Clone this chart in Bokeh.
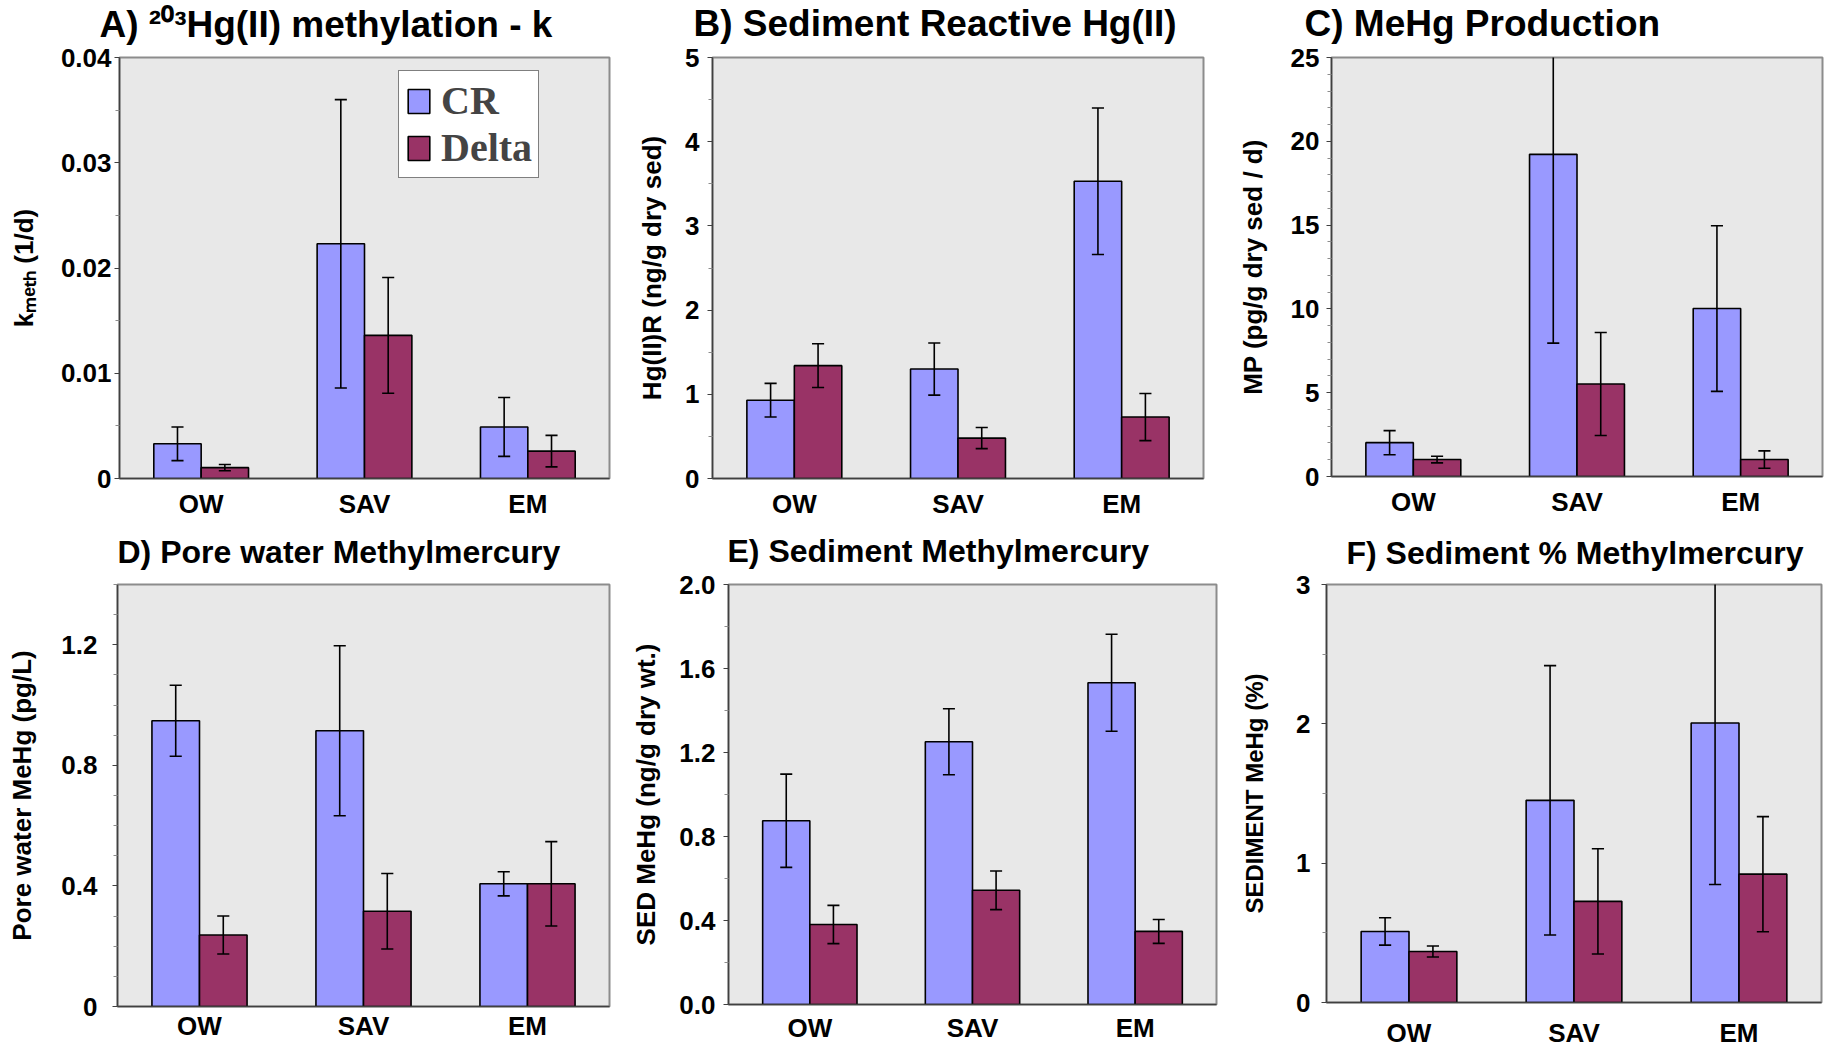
from bokeh.plotting import figure
from bokeh.layouts import column, row
from bokeh.models import (ColumnDataSource, FactorRange, Range1d, FixedTicker,
                          Legend, LegendItem, Title, Row)
from bokeh.transform import dodge
from bokeh.embed import file_html
from bokeh.resources import INLINE

# ---------------- data ----------------
categories = ["OW", "SAV", "EM"]
series = ["CR", "Delta"]

# A) 203Hg(II) methylation rate constant k_meth (1/d)
kmeth_cr = [0.0033, 0.0223, 0.0049]
kmeth_cr_err = [0.0016, 0.0137, 0.0028]
kmeth_delta = [0.00103, 0.0136, 0.0026]
kmeth_delta_err = [0.0003, 0.0055, 0.0015]

# B) Sediment reactive Hg(II) (ng/g dry sed)
hgr_cr = [0.93, 1.30, 3.53]
hgr_cr_err = [0.20, 0.31, 0.87]
hgr_delta = [1.34, 0.48, 0.73]
hgr_delta_err = [0.26, 0.125, 0.28]

# C) MeHg production (pg/g dry sed / d)
mp_cr = [2.02, 19.22, 10.02]
mp_cr_err = [0.72, 11.26, 4.94]
mp_delta = [1.01, 5.52, 1.01]
mp_delta_err = [0.20, 3.07, 0.52]

# D) Pore water MeHg (pg/L)
pw_cr = [0.948, 0.915, 0.407]
pw_cr_err = [0.118, 0.282, 0.040]
pw_delta = [0.237, 0.316, 0.407]
pw_delta_err = [0.063, 0.125, 0.140]

# E) Sediment MeHg (ng/g dry wt.)
sed_cr = [0.875, 1.251, 1.532]
sed_cr_err = [0.222, 0.157, 0.231]
sed_delta = [0.381, 0.544, 0.348]
sed_delta_err = [0.091, 0.092, 0.057]

# F) Sediment % MeHg
pct_cr = [0.510, 1.451, 2.006]
pct_cr_err = [0.098, 0.967, 1.159]
pct_delta = [0.366, 0.726, 0.921]
pct_delta_err = [0.039, 0.378, 0.413]

# titles and axis labels
titles = ["A) \u00b2\u2070\u00b3Hg(II) methylation - k",
          "B) Sediment Reactive Hg(II)",
          "C) MeHg Production",
          "D) Pore water Methylmercury",
          "E) Sediment Methylmercury",
          "F) Sediment % Methylmercury"]
ylabels = ["k\u2098\u2091\u209c\u2095 (1/d)",
           "Hg(II)R (ng/g dry sed)",
           "MP (pg/g dry sed / d)",
           "Pore water MeHg (pg/L)",
           "SED MeHg (ng/g dry wt.)",
           "SEDIMENT MeHg (%)"]

# axis ticks
ticks_a = [0, 0.01, 0.02, 0.03, 0.04]
ticks_b = [0, 1, 2, 3, 4, 5]
ticks_c = [0, 5, 10, 15, 20, 25]
ticks_d = [0, 0.4, 0.8, 1.2]
ticks_e = [0, 0.4, 0.8, 1.2, 1.6, 2.0]
ticks_f = [0, 1, 2, 3]
labels_a = {0: "0", 0.01: "0.01", 0.02: "0.02", 0.03: "0.03", 0.04: "0.04"}
labels_d = {0: "0", 0.4: "0.4", 0.8: "0.8", 1.2: "1.2"}
labels_e = {0: "0.0", 0.4: "0.4", 0.8: "0.8", 1.2: "1.2", 1.6: "1.6", 2.0: "2.0"}

# ---------------- style ----------------
CR_COLOR = "#9999FF"
DELTA_COLOR = "#993366"
BG = "#E8E8E8"
FONT = "Liberation Sans"
SERIF = "Liberation Serif"
BAR_W = 0.29
CAP = 0.037

# negative row margins let the titles sit higher above the frames
S1, S2 = 12, 8
try:
    Row(margin=(-S1, 0, 0, 0))
except Exception:
    S1, S2 = 0, 0


def make_panel(cr, cr_err, de, de_err, ymax, ticks, minor, overrides, geo, shift,
               title, title_px, title_offset, frame_top_page, title_baseline_page,
               ylabel, ylabel_size, ylabel_standoff, tick_standoff, x_standoff):
    # geo: (border_left, frame_w, border_right, border_top, frame_h, border_bottom)
    bl, fw, br, bt, fh, bb = geo
    bt = bt + shift
    desc = 0.212 * title_px
    height = 1.117 * title_px
    standoff = 2 * (frame_top_page - desc - title_baseline_page)
    standoff = max(0, min(standoff, bt - height - 1))
    p = figure(x_range=FactorRange(*categories), y_range=Range1d(0, ymax),
               frame_width=fw, frame_height=fh,
               min_border_left=bl, min_border_right=br,
               min_border_top=bt, min_border_bottom=bb,
               output_backend="svg", toolbar_location=None, tools="",
               background_fill_color=BG, border_fill_color="white",
               border_fill_alpha=0)
    p.title = Title(text=title, align="left", vertical_align="top",
                    offset=title_offset, standoff=standoff,
                    text_font=FONT, text_font_style="bold",
                    text_font_size=f"{title_px}px", text_color="black")
    p.outline_line_color = "#8C8C8C"
    p.outline_line_width = 2
    p.xgrid.visible = False
    p.ygrid.visible = False

    renderers = []
    for vals, errs, off, color in ((cr, cr_err, -BAR_W / 2, CR_COLOR),
                                   (de, de_err, BAR_W / 2, DELTA_COLOR)):
        src = ColumnDataSource(dict(
            cat=categories, value=vals,
            upper=[v + e for v, e in zip(vals, errs)],
            lower=[v - e for v, e in zip(vals, errs)]))
        r = p.vbar(x=dodge("cat", off, range=p.x_range), top="value", width=BAR_W,
                   fill_color=color, line_color="black", line_width=1.6, source=src)
        renderers.append(r)
        p.segment(x0=dodge("cat", off, range=p.x_range), y0="lower",
                  x1=dodge("cat", off, range=p.x_range), y1="upper",
                  line_color="black", line_width=1.6, source=src)
        for col in ("upper", "lower"):
            p.segment(x0=dodge("cat", off - CAP, range=p.x_range), y0=col,
                      x1=dodge("cat", off + CAP, range=p.x_range), y1=col,
                      line_color="black", line_width=1.6, source=src)

    yax = p.yaxis[0]
    yax.ticker = FixedTicker(ticks=ticks, minor_ticks=minor)
    if overrides:
        yax.major_label_overrides = overrides
    yax.major_label_text_font = FONT
    yax.major_label_text_font_style = "bold"
    yax.major_label_text_font_size = "26px"
    yax.major_label_text_color = "black"
    yax.major_label_standoff = tick_standoff
    yax.axis_line_color = "#404040"
    yax.axis_line_width = 1.5
    yax.major_tick_line_color = "#404040"
    yax.major_tick_in = 0
    yax.major_tick_out = 5
    yax.minor_tick_line_color = "#8C8C8C"
    yax.minor_tick_in = 0
    yax.minor_tick_out = 4
    yax.axis_label = ylabel
    yax.axis_label_text_font = FONT
    yax.axis_label_text_font_style = "bold"
    yax.axis_label_text_font_size = ylabel_size
    yax.axis_label_text_color = "black"
    yax.axis_label_standoff = ylabel_standoff

    xax = p.xaxis[0]
    xax.major_label_text_font = FONT
    xax.major_label_text_font_style = "bold"
    xax.major_label_text_font_size = "26px"
    xax.major_label_text_color = "black"
    xax.major_label_standoff = x_standoff
    xax.major_tick_line_color = None
    xax.major_tick_out = 0
    xax.major_tick_in = 0
    xax.minor_tick_line_color = None
    xax.minor_tick_out = 0
    xax.axis_line_color = "#404040"
    xax.axis_line_width = 1.5
    return p, renderers


# ---------------- panels ----------------
pA, rA = make_panel(kmeth_cr, kmeth_cr_err, kmeth_delta, kmeth_delta_err, 0.04,
                    ticks_a, [0.005, 0.015, 0.025, 0.035], labels_a,
                    (119, 490, 16, 56, 421, 47), S1,
                    titles[0], 37, -20, 56, 37.5, ylabels[0], "26px", 19, 3, 10)
legend = Legend(items=[LegendItem(label=series[0], renderers=[rA[0]]),
                       LegendItem(label=series[1], renderers=[rA[1]])],
                location=(279, 300))
legend.label_text_font = SERIF
legend.label_text_font_style = "bold"
legend.label_text_font_size = "40px"
legend.glyph_width = 27
legend.glyph_height = 30
legend.label_standoff = 9
legend.padding = 6
legend.spacing = 0
legend.margin = 0
legend.border_line_color = "black"
legend.border_line_width = 1
legend.background_fill_color = "white"
legend.background_fill_alpha = 1.0
pA.add_layout(legend)

pB, rB = make_panel(hgr_cr, hgr_cr_err, hgr_delta, hgr_delta_err, 5,
                    ticks_b, [0.5, 1.5, 2.5, 3.5, 4.5], None,
                    (87, 491, 22, 56, 421, 47), S1,
                    titles[1], 37, -19, 56, 36.5, ylabels[1], "26px", 15, 8, 10)

pC, rC = make_panel(mp_cr, mp_cr_err, mp_delta, mp_delta_err, 25,
                    ticks_c, [i for i in range(26) if i % 5], None,
                    (106, 491, 4, 57, 419, 48), S1,
                    titles[2], 37, -27, 57, 37.0, ylabels[2], "26px", 20, 7, 10)

pD, rD = make_panel(pw_cr, pw_cr_err, pw_delta, pw_delta_err, 1.4,
                    ticks_d, [0.1, 0.2, 0.3, 0.5, 0.6, 0.7, 0.9, 1.0, 1.1, 1.3, 1.4], labels_d,
                    (117, 492, 16, 58, 422, 42), S2,
                    titles[3], 32, 0, 582, 562, ylabels[3], "26px", 21, 15, 4)

pE, rE = make_panel(sed_cr, sed_cr_err, sed_delta, sed_delta_err, 2.0,
                    ticks_e, [0.2, 0.6, 1.0, 1.4, 1.8], labels_e,
                    (103, 488, 9, 60, 420, 42), S2,
                    titles[4], 32, -1, 584, 563.5, ylabels[4], "26px", 15, 8, 8)

pF, rF = make_panel(pct_cr, pct_cr_err, pct_delta, pct_delta_err, 3,
                    ticks_f, [0.5, 1.5, 2.5], None,
                    (101, 495, 5, 58, 418, 46), S2,
                    titles[5], 32, 20, 582, 563.5, ylabels[5], "24px", 25, 11, 15)

row1 = row(pA, pB, pC, spacing=0)
row2 = row(pD, pE, pF, spacing=0)
if S1:
    row1.margin = (-S1, 0, 0, 0)
    row2.margin = (-S2, 0, 0, 0)
layout = column(row1, row2, spacing=0)

with open("out.html", "w") as f:
    f.write(file_html(layout, INLINE, "Hg methylation"))
